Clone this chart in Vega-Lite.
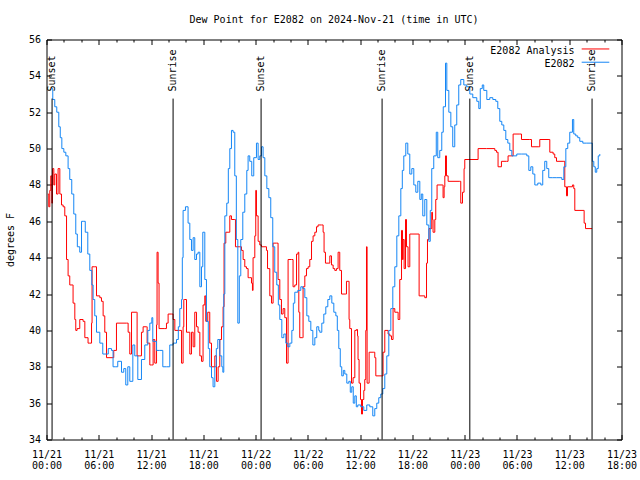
{
  "$schema": "https://vega.github.io/schema/vega-lite/v6.json",
  "width": 575,
  "height": 400,
  "autosize": "none",
  "padding": {"left": 46.5, "top": 39.5, "right": 18.5, "bottom": 40.5},
  "background": "white",
  "title": {"text": "Dew Point for E2082 on 2024-Nov-21 (time in UTC)", "font": "DejaVu Sans Mono", "fontSize": 10, "fontWeight": "normal", "color": "black", "anchor": "middle", "baseline": "alphabetic", "offset": 2},
  "datasets": {
    "legend": [
      {"series": "E2082 Analysis"},
      {"series": "E2082"}
    ],
    "sun": [
      {"event": "Sunset", "hours": 0.64},
      {"event": "Sunrise", "hours": 14.53},
      {"event": "Sunset", "hours": 24.63},
      {"event": "Sunrise", "hours": 38.52},
      {"event": "Sunset", "hours": 48.59},
      {"event": "Sunrise", "hours": 62.62}
    ],
    "dew": [
{"series":"E2082 Analysis","hours":0.15,"dewF":47.5},{"series":"E2082 Analysis","hours":0.26,"dewF":46.8},{"series":"E2082 Analysis","hours":0.38,"dewF":47.7},{"series":"E2082 Analysis","hours":0.49,"dewF":48.5},{"series":"E2082 Analysis","hours":0.61,"dewF":47.0},{"series":"E2082 Analysis","hours":0.69,"dewF":48.9},{"series":"E2082 Analysis","hours":0.84,"dewF":48.0},{"series":"E2082 Analysis","hours":0.95,"dewF":48.6},{"series":"E2082 Analysis","hours":1.15,"dewF":47.5},{"series":"E2082 Analysis","hours":1.33,"dewF":48.9},{"series":"E2082 Analysis","hours":1.53,"dewF":47.5},{"series":"E2082 Analysis","hours":1.72,"dewF":46.9},{"series":"E2082 Analysis","hours":1.91,"dewF":46.8},{"series":"E2082 Analysis","hours":2.10,"dewF":46.3},{"series":"E2082 Analysis","hours":2.30,"dewF":43.9},{"series":"E2082 Analysis","hours":2.48,"dewF":43.0},{"series":"E2082 Analysis","hours":2.67,"dewF":42.5},{"series":"E2082 Analysis","hours":2.94,"dewF":42.5},{"series":"E2082 Analysis","hours":3.05,"dewF":41.5},{"series":"E2082 Analysis","hours":3.25,"dewF":40.6},{"series":"E2082 Analysis","hours":3.36,"dewF":40.0},{"series":"E2082 Analysis","hours":3.51,"dewF":40.1},{"series":"E2082 Analysis","hours":3.82,"dewF":40.6},{"series":"E2082 Analysis","hours":4.20,"dewF":40.5},{"series":"E2082 Analysis","hours":4.40,"dewF":39.6},{"series":"E2082 Analysis","hours":4.77,"dewF":39.3},{"series":"E2082 Analysis","hours":4.97,"dewF":39.3},{"series":"E2082 Analysis","hours":5.17,"dewF":40.4},{"series":"E2082 Analysis","hours":5.23,"dewF":43.5},{"series":"E2082 Analysis","hours":5.54,"dewF":43.5},{"series":"E2082 Analysis","hours":5.74,"dewF":41.9},{"series":"E2082 Analysis","hours":6.12,"dewF":41.8},{"series":"E2082 Analysis","hours":6.31,"dewF":41.6},{"series":"E2082 Analysis","hours":6.50,"dewF":40.8},{"series":"E2082 Analysis","hours":6.69,"dewF":39.9},{"series":"E2082 Analysis","hours":6.89,"dewF":38.5},{"series":"E2082 Analysis","hours":7.64,"dewF":38.5},{"series":"E2082 Analysis","hours":7.72,"dewF":38.9},{"series":"E2082 Analysis","hours":8.03,"dewF":40.4},{"series":"E2082 Analysis","hours":9.18,"dewF":40.4},{"series":"E2082 Analysis","hours":9.37,"dewF":39.9},{"series":"E2082 Analysis","hours":9.56,"dewF":38.7},{"series":"E2082 Analysis","hours":9.76,"dewF":41.0},{"series":"E2082 Analysis","hours":10.33,"dewF":41.0},{"series":"E2082 Analysis","hours":10.40,"dewF":38.6},{"series":"E2082 Analysis","hours":10.71,"dewF":38.6},{"series":"E2082 Analysis","hours":10.90,"dewF":39.9},{"series":"E2082 Analysis","hours":11.09,"dewF":40.2},{"series":"E2082 Analysis","hours":11.48,"dewF":40.2},{"series":"E2082 Analysis","hours":11.55,"dewF":39.3},{"series":"E2082 Analysis","hours":11.86,"dewF":38.1},{"series":"E2082 Analysis","hours":12.05,"dewF":38.1},{"series":"E2082 Analysis","hours":12.24,"dewF":39.5},{"series":"E2082 Analysis","hours":12.43,"dewF":38.2},{"series":"E2082 Analysis","hours":12.63,"dewF":40.3},{"series":"E2082 Analysis","hours":12.69,"dewF":44.3},{"series":"E2082 Analysis","hours":12.81,"dewF":42.6},{"series":"E2082 Analysis","hours":12.92,"dewF":40.1},{"series":"E2082 Analysis","hours":13.58,"dewF":40.1},{"series":"E2082 Analysis","hours":13.77,"dewF":40.4},{"series":"E2082 Analysis","hours":13.96,"dewF":40.9},{"series":"E2082 Analysis","hours":14.35,"dewF":40.9},{"series":"E2082 Analysis","hours":14.53,"dewF":40.6},{"series":"E2082 Analysis","hours":14.73,"dewF":40.0},{"series":"E2082 Analysis","hours":15.30,"dewF":40.0},{"series":"E2082 Analysis","hours":15.50,"dewF":38.2},{"series":"E2082 Analysis","hours":15.68,"dewF":40.2},{"series":"E2082 Analysis","hours":15.76,"dewF":41.7},{"series":"E2082 Analysis","hours":15.87,"dewF":41.7},{"series":"E2082 Analysis","hours":16.07,"dewF":39.9},{"series":"E2082 Analysis","hours":16.45,"dewF":38.7},{"series":"E2082 Analysis","hours":16.64,"dewF":39.9},{"series":"E2082 Analysis","hours":16.83,"dewF":39.1},{"series":"E2082 Analysis","hours":17.02,"dewF":41.0},{"series":"E2082 Analysis","hours":17.22,"dewF":40.2},{"series":"E2082 Analysis","hours":17.40,"dewF":39.9},{"series":"E2082 Analysis","hours":17.60,"dewF":38.6},{"series":"E2082 Analysis","hours":17.79,"dewF":38.3},{"series":"E2082 Analysis","hours":17.97,"dewF":41.4},{"series":"E2082 Analysis","hours":18.17,"dewF":41.9},{"series":"E2082 Analysis","hours":18.28,"dewF":40.5},{"series":"E2082 Analysis","hours":18.51,"dewF":41.0},{"series":"E2082 Analysis","hours":18.74,"dewF":39.3},{"series":"E2082 Analysis","hours":18.94,"dewF":38.0},{"series":"E2082 Analysis","hours":19.32,"dewF":38.6},{"series":"E2082 Analysis","hours":19.51,"dewF":37.2},{"series":"E2082 Analysis","hours":19.70,"dewF":38.0},{"series":"E2082 Analysis","hours":19.89,"dewF":39.5},{"series":"E2082 Analysis","hours":20.09,"dewF":40.2},{"series":"E2082 Analysis","hours":20.27,"dewF":41.3},{"series":"E2082 Analysis","hours":20.38,"dewF":44.8},{"series":"E2082 Analysis","hours":20.58,"dewF":45.4},{"series":"E2082 Analysis","hours":20.84,"dewF":45.4},{"series":"E2082 Analysis","hours":21.04,"dewF":46.3},{"series":"E2082 Analysis","hours":21.23,"dewF":46.1},{"series":"E2082 Analysis","hours":21.61,"dewF":46.1},{"series":"E2082 Analysis","hours":21.69,"dewF":44.6},{"series":"E2082 Analysis","hours":22.19,"dewF":44.6},{"series":"E2082 Analysis","hours":22.38,"dewF":44.4},{"series":"E2082 Analysis","hours":22.57,"dewF":43.9},{"series":"E2082 Analysis","hours":22.76,"dewF":43.5},{"series":"E2082 Analysis","hours":22.96,"dewF":43.4},{"series":"E2082 Analysis","hours":23.14,"dewF":42.9},{"series":"E2082 Analysis","hours":23.33,"dewF":42.9},{"series":"E2082 Analysis","hours":23.53,"dewF":42.6},{"series":"E2082 Analysis","hours":23.64,"dewF":42.2},{"series":"E2082 Analysis","hours":23.71,"dewF":44.0},{"series":"E2082 Analysis","hours":23.91,"dewF":45.2},{"series":"E2082 Analysis","hours":24.02,"dewF":47.7},{"series":"E2082 Analysis","hours":24.10,"dewF":46.3},{"series":"E2082 Analysis","hours":24.29,"dewF":44.9},{"series":"E2082 Analysis","hours":24.48,"dewF":44.7},{"series":"E2082 Analysis","hours":24.68,"dewF":44.6},{"series":"E2082 Analysis","hours":25.25,"dewF":44.4},{"series":"E2082 Analysis","hours":25.37,"dewF":43.4},{"series":"E2082 Analysis","hours":25.63,"dewF":41.9},{"series":"E2082 Analysis","hours":25.83,"dewF":41.5},{"series":"E2082 Analysis","hours":26.01,"dewF":44.8},{"series":"E2082 Analysis","hours":26.40,"dewF":44.8},{"series":"E2082 Analysis","hours":26.58,"dewF":42.8},{"series":"E2082 Analysis","hours":26.78,"dewF":41.7},{"series":"E2082 Analysis","hours":26.97,"dewF":40.9},{"series":"E2082 Analysis","hours":27.16,"dewF":41.2},{"series":"E2082 Analysis","hours":27.35,"dewF":40.7},{"series":"E2082 Analysis","hours":27.55,"dewF":38.2},{"series":"E2082 Analysis","hours":27.73,"dewF":43.9},{"series":"E2082 Analysis","hours":28.12,"dewF":43.9},{"series":"E2082 Analysis","hours":28.30,"dewF":42.4},{"series":"E2082 Analysis","hours":28.50,"dewF":42.5},{"series":"E2082 Analysis","hours":28.70,"dewF":44.2},{"series":"E2082 Analysis","hours":28.88,"dewF":44.3},{"series":"E2082 Analysis","hours":28.96,"dewF":41.0},{"series":"E2082 Analysis","hours":29.07,"dewF":39.6},{"series":"E2082 Analysis","hours":29.38,"dewF":39.6},{"series":"E2082 Analysis","hours":29.45,"dewF":42.4},{"series":"E2082 Analysis","hours":29.65,"dewF":43.0},{"series":"E2082 Analysis","hours":29.84,"dewF":43.4},{"series":"E2082 Analysis","hours":30.03,"dewF":43.5},{"series":"E2082 Analysis","hours":30.22,"dewF":43.9},{"series":"E2082 Analysis","hours":30.42,"dewF":44.9},{"series":"E2082 Analysis","hours":30.60,"dewF":45.2},{"series":"E2082 Analysis","hours":30.80,"dewF":45.4},{"series":"E2082 Analysis","hours":30.99,"dewF":45.7},{"series":"E2082 Analysis","hours":31.17,"dewF":45.8},{"series":"E2082 Analysis","hours":31.56,"dewF":45.8},{"series":"E2082 Analysis","hours":31.75,"dewF":45.4},{"series":"E2082 Analysis","hours":31.86,"dewF":44.3},{"series":"E2082 Analysis","hours":32.02,"dewF":43.7},{"series":"E2082 Analysis","hours":32.32,"dewF":43.7},{"series":"E2082 Analysis","hours":32.52,"dewF":44.1},{"series":"E2082 Analysis","hours":32.71,"dewF":43.6},{"series":"E2082 Analysis","hours":32.90,"dewF":43.4},{"series":"E2082 Analysis","hours":33.09,"dewF":43.3},{"series":"E2082 Analysis","hours":33.29,"dewF":43.4},{"series":"E2082 Analysis","hours":33.47,"dewF":44.3},{"series":"E2082 Analysis","hours":33.66,"dewF":43.3},{"series":"E2082 Analysis","hours":33.86,"dewF":42.0},{"series":"E2082 Analysis","hours":34.35,"dewF":42.0},{"series":"E2082 Analysis","hours":34.43,"dewF":42.7},{"series":"E2082 Analysis","hours":34.62,"dewF":42.7},{"series":"E2082 Analysis","hours":34.73,"dewF":40.6},{"series":"E2082 Analysis","hours":34.81,"dewF":40.1},{"series":"E2082 Analysis","hours":35.01,"dewF":37.1},{"series":"E2082 Analysis","hours":35.19,"dewF":37.4},{"series":"E2082 Analysis","hours":35.39,"dewF":40.0},{"series":"E2082 Analysis","hours":35.58,"dewF":40.05},{"series":"E2082 Analysis","hours":35.70,"dewF":39.7},{"series":"E2082 Analysis","hours":35.76,"dewF":38.4},{"series":"E2082 Analysis","hours":35.88,"dewF":37.1},{"series":"E2082 Analysis","hours":36.04,"dewF":36.2},{"series":"E2082 Analysis","hours":36.16,"dewF":35.4},{"series":"E2082 Analysis","hours":36.27,"dewF":36.2},{"series":"E2082 Analysis","hours":36.42,"dewF":36.7},{"series":"E2082 Analysis","hours":36.53,"dewF":37.3},{"series":"E2082 Analysis","hours":36.65,"dewF":40.0},{"series":"E2082 Analysis","hours":36.73,"dewF":44.6},{"series":"E2082 Analysis","hours":36.80,"dewF":37.1},{"series":"E2082 Analysis","hours":37.03,"dewF":38.8},{"series":"E2082 Analysis","hours":37.57,"dewF":38.8},{"series":"E2082 Analysis","hours":37.68,"dewF":38.5},{"series":"E2082 Analysis","hours":37.80,"dewF":37.5},{"series":"E2082 Analysis","hours":38.45,"dewF":37.5},{"series":"E2082 Analysis","hours":38.63,"dewF":38.8},{"series":"E2082 Analysis","hours":38.83,"dewF":40.0},{"series":"E2082 Analysis","hours":39.21,"dewF":39.8},{"series":"E2082 Analysis","hours":39.40,"dewF":39.7},{"series":"E2082 Analysis","hours":39.60,"dewF":39.5},{"series":"E2082 Analysis","hours":39.78,"dewF":41.2},{"series":"E2082 Analysis","hours":39.98,"dewF":41.0},{"series":"E2082 Analysis","hours":40.36,"dewF":40.6},{"series":"E2082 Analysis","hours":40.55,"dewF":42.8},{"series":"E2082 Analysis","hours":40.75,"dewF":45.5},{"series":"E2082 Analysis","hours":40.86,"dewF":43.9},{"series":"E2082 Analysis","hours":40.93,"dewF":45.0},{"series":"E2082 Analysis","hours":41.05,"dewF":43.4},{"series":"E2082 Analysis","hours":41.21,"dewF":46.1},{"series":"E2082 Analysis","hours":41.32,"dewF":44.6},{"series":"E2082 Analysis","hours":41.50,"dewF":43.5},{"series":"E2082 Analysis","hours":41.70,"dewF":45.3},{"series":"E2082 Analysis","hours":42.65,"dewF":45.3},{"series":"E2082 Analysis","hours":42.77,"dewF":41.9},{"series":"E2082 Analysis","hours":43.42,"dewF":41.8},{"series":"E2082 Analysis","hours":43.62,"dewF":43.7},{"series":"E2082 Analysis","hours":43.73,"dewF":45.0},{"series":"E2082 Analysis","hours":43.91,"dewF":45.6},{"series":"E2082 Analysis","hours":44.11,"dewF":45.6},{"series":"E2082 Analysis","hours":44.22,"dewF":46.5},{"series":"E2082 Analysis","hours":44.30,"dewF":46.1},{"series":"E2082 Analysis","hours":44.37,"dewF":45.4},{"series":"E2082 Analysis","hours":44.57,"dewF":46.1},{"series":"E2082 Analysis","hours":44.68,"dewF":47.2},{"series":"E2082 Analysis","hours":44.83,"dewF":48.0},{"series":"E2082 Analysis","hours":45.45,"dewF":48.0},{"series":"E2082 Analysis","hours":45.52,"dewF":47.3},{"series":"E2082 Analysis","hours":45.64,"dewF":47.9},{"series":"E2082 Analysis","hours":45.72,"dewF":48.5},{"series":"E2082 Analysis","hours":45.80,"dewF":49.6},{"series":"E2082 Analysis","hours":45.91,"dewF":48.5},{"series":"E2082 Analysis","hours":46.10,"dewF":48.2},{"series":"E2082 Analysis","hours":47.44,"dewF":48.2},{"series":"E2082 Analysis","hours":47.55,"dewF":47.0},{"series":"E2082 Analysis","hours":47.75,"dewF":47.6},{"series":"E2082 Analysis","hours":47.93,"dewF":48.9},{"series":"E2082 Analysis","hours":48.01,"dewF":49.4},{"series":"E2082 Analysis","hours":49.54,"dewF":50.0},{"series":"E2082 Analysis","hours":50.50,"dewF":50.0},{"series":"E2082 Analysis","hours":51.46,"dewF":49.9},{"series":"E2082 Analysis","hours":51.65,"dewF":49.8},{"series":"E2082 Analysis","hours":51.83,"dewF":49.0},{"series":"E2082 Analysis","hours":52.22,"dewF":49.3},{"series":"E2082 Analysis","hours":52.80,"dewF":49.3},{"series":"E2082 Analysis","hours":52.98,"dewF":49.6},{"series":"E2082 Analysis","hours":53.56,"dewF":50.8},{"series":"E2082 Analysis","hours":54.33,"dewF":50.8},{"series":"E2082 Analysis","hours":54.52,"dewF":50.5},{"series":"E2082 Analysis","hours":55.47,"dewF":50.5},{"series":"E2082 Analysis","hours":55.67,"dewF":50.1},{"series":"E2082 Analysis","hours":56.43,"dewF":50.1},{"series":"E2082 Analysis","hours":56.62,"dewF":50.5},{"series":"E2082 Analysis","hours":57.57,"dewF":50.5},{"series":"E2082 Analysis","hours":57.77,"dewF":49.8},{"series":"E2082 Analysis","hours":58.15,"dewF":49.7},{"series":"E2082 Analysis","hours":58.34,"dewF":49.5},{"series":"E2082 Analysis","hours":58.54,"dewF":49.3},{"series":"E2082 Analysis","hours":59.30,"dewF":49.3},{"series":"E2082 Analysis","hours":59.49,"dewF":47.9},{"series":"E2082 Analysis","hours":59.69,"dewF":47.4},{"series":"E2082 Analysis","hours":59.80,"dewF":47.9},{"series":"E2082 Analysis","hours":60.37,"dewF":48.0},{"series":"E2082 Analysis","hours":60.52,"dewF":47.8},{"series":"E2082 Analysis","hours":60.64,"dewF":46.6},{"series":"E2082 Analysis","hours":61.59,"dewF":46.6},{"series":"E2082 Analysis","hours":61.71,"dewF":45.9},{"series":"E2082 Analysis","hours":61.87,"dewF":45.6},{"series":"E2082 Analysis","hours":62.62,"dewF":45.6},
{"series":"E2082","hours":0.57,"dewF":53.3},{"series":"E2082","hours":0.72,"dewF":52.7},{"series":"E2082","hours":0.95,"dewF":52.3},{"series":"E2082","hours":1.18,"dewF":52.0},{"series":"E2082","hours":1.41,"dewF":51.2},{"series":"E2082","hours":1.58,"dewF":50.6},{"series":"E2082","hours":1.76,"dewF":50.0},{"series":"E2082","hours":1.99,"dewF":49.8},{"series":"E2082","hours":2.22,"dewF":49.6},{"series":"E2082","hours":2.48,"dewF":48.9},{"series":"E2082","hours":2.67,"dewF":48.3},{"series":"E2082","hours":2.90,"dewF":47.5},{"series":"E2082","hours":3.13,"dewF":46.4},{"series":"E2082","hours":3.36,"dewF":45.3},{"series":"E2082","hours":3.54,"dewF":44.6},{"series":"E2082","hours":3.82,"dewF":44.3},{"series":"E2082","hours":4.02,"dewF":46.0},{"series":"E2082","hours":4.28,"dewF":46.0},{"series":"E2082","hours":4.45,"dewF":45.4},{"series":"E2082","hours":4.74,"dewF":44.2},{"series":"E2082","hours":4.97,"dewF":43.3},{"series":"E2082","hours":5.20,"dewF":42.5},{"series":"E2082","hours":5.35,"dewF":41.7},{"series":"E2082","hours":5.54,"dewF":40.8},{"series":"E2082","hours":5.74,"dewF":39.9},{"series":"E2082","hours":6.12,"dewF":39.3},{"series":"E2082","hours":6.46,"dewF":38.7},{"series":"E2082","hours":6.89,"dewF":38.7},{"series":"E2082","hours":7.09,"dewF":39.0},{"series":"E2082","hours":7.46,"dewF":38.9},{"series":"E2082","hours":7.64,"dewF":38.0},{"series":"E2082","hours":7.95,"dewF":38.0},{"series":"E2082","hours":8.18,"dewF":38.3},{"series":"E2082","hours":8.61,"dewF":37.7},{"series":"E2082","hours":8.87,"dewF":37.9},{"series":"E2082","hours":9.10,"dewF":37.0},{"series":"E2082","hours":9.33,"dewF":38.0},{"series":"E2082","hours":9.56,"dewF":37.2},{"series":"E2082","hours":9.91,"dewF":39.2},{"series":"E2082","hours":10.13,"dewF":38.6},{"series":"E2082","hours":10.48,"dewF":37.3},{"series":"E2082","hours":10.90,"dewF":38.4},{"series":"E2082","hours":11.28,"dewF":39.2},{"series":"E2082","hours":11.63,"dewF":40.0},{"series":"E2082","hours":11.86,"dewF":40.4},{"series":"E2082","hours":12.09,"dewF":40.7},{"series":"E2082","hours":12.20,"dewF":39.4},{"series":"E2082","hours":12.63,"dewF":38.9},{"series":"E2082","hours":13.00,"dewF":38.9},{"series":"E2082","hours":13.35,"dewF":38.0},{"series":"E2082","hours":13.77,"dewF":38.0},{"series":"E2082","hours":14.15,"dewF":39.2},{"series":"E2082","hours":14.53,"dewF":39.3},{"series":"E2082","hours":14.92,"dewF":39.5},{"series":"E2082","hours":15.13,"dewF":40.2},{"series":"E2082","hours":15.30,"dewF":41.2},{"series":"E2082","hours":15.50,"dewF":41.7},{"series":"E2082","hours":15.59,"dewF":44.0},{"series":"E2082","hours":15.68,"dewF":46.6},{"series":"E2082","hours":15.95,"dewF":46.8},{"series":"E2082","hours":16.25,"dewF":45.9},{"series":"E2082","hours":16.45,"dewF":45.0},{"series":"E2082","hours":16.64,"dewF":44.4},{"series":"E2082","hours":16.83,"dewF":45.1},{"series":"E2082","hours":17.02,"dewF":43.9},{"series":"E2082","hours":17.22,"dewF":44.2},{"series":"E2082","hours":17.40,"dewF":44.3},{"series":"E2082","hours":17.60,"dewF":42.4},{"series":"E2082","hours":17.79,"dewF":43.5},{"series":"E2082","hours":17.94,"dewF":45.4},{"series":"E2082","hours":18.17,"dewF":42.8},{"series":"E2082","hours":18.36,"dewF":40.5},{"series":"E2082","hours":18.57,"dewF":39.0},{"series":"E2082","hours":18.74,"dewF":38.0},{"series":"E2082","hours":18.94,"dewF":37.4},{"series":"E2082","hours":19.12,"dewF":36.9},{"series":"E2082","hours":19.32,"dewF":38.0},{"series":"E2082","hours":19.49,"dewF":39.0},{"series":"E2082","hours":19.66,"dewF":39.5},{"series":"E2082","hours":19.89,"dewF":38.6},{"series":"E2082","hours":20.12,"dewF":38.0},{"series":"E2082","hours":20.24,"dewF":37.7},{"series":"E2082","hours":20.35,"dewF":42.0},{"series":"E2082","hours":20.47,"dewF":46.3},{"series":"E2082","hours":20.69,"dewF":47.0},{"series":"E2082","hours":20.87,"dewF":48.9},{"series":"E2082","hours":21.04,"dewF":50.0},{"series":"E2082","hours":21.23,"dewF":51.0},{"series":"E2082","hours":21.42,"dewF":50.9},{"series":"E2082","hours":21.61,"dewF":48.5},{"series":"E2082","hours":21.79,"dewF":45.0},{"series":"E2082","hours":21.96,"dewF":40.4},{"series":"E2082","hours":22.13,"dewF":43.0},{"series":"E2082","hours":22.30,"dewF":45.0},{"series":"E2082","hours":22.53,"dewF":46.5},{"series":"E2082","hours":22.76,"dewF":47.5},{"series":"E2082","hours":22.99,"dewF":48.8},{"series":"E2082","hours":23.14,"dewF":49.6},{"series":"E2082","hours":23.33,"dewF":49.3},{"series":"E2082","hours":23.56,"dewF":48.5},{"series":"E2082","hours":23.79,"dewF":49.5},{"series":"E2082","hours":24.10,"dewF":50.3},{"series":"E2082","hours":24.29,"dewF":49.4},{"series":"E2082","hours":24.48,"dewF":49.6},{"series":"E2082","hours":24.68,"dewF":50.1},{"series":"E2082","hours":24.86,"dewF":49.5},{"series":"E2082","hours":25.06,"dewF":48.5},{"series":"E2082","hours":25.29,"dewF":47.8},{"series":"E2082","hours":25.52,"dewF":47.3},{"series":"E2082","hours":25.74,"dewF":46.2},{"series":"E2082","hours":25.97,"dewF":44.6},{"series":"E2082","hours":26.20,"dewF":43.2},{"series":"E2082","hours":26.43,"dewF":42.5},{"series":"E2082","hours":26.61,"dewF":41.4},{"series":"E2082","hours":26.78,"dewF":40.6},{"series":"E2082","hours":27.01,"dewF":39.6},{"series":"E2082","hours":27.24,"dewF":39.8},{"series":"E2082","hours":27.47,"dewF":39.3},{"series":"E2082","hours":27.70,"dewF":39.1},{"series":"E2082","hours":27.93,"dewF":39.3},{"series":"E2082","hours":28.16,"dewF":40.0},{"series":"E2082","hours":28.33,"dewF":41.5},{"series":"E2082","hours":28.50,"dewF":42.1},{"series":"E2082","hours":28.84,"dewF":42.2},{"series":"E2082","hours":29.19,"dewF":42.4},{"series":"E2082","hours":29.42,"dewF":42.3},{"series":"E2082","hours":29.65,"dewF":41.8},{"series":"E2082","hours":29.88,"dewF":40.8},{"series":"E2082","hours":30.11,"dewF":40.5},{"series":"E2082","hours":30.34,"dewF":40.0},{"series":"E2082","hours":30.57,"dewF":39.2},{"series":"E2082","hours":30.80,"dewF":39.6},{"series":"E2082","hours":31.02,"dewF":40.2},{"series":"E2082","hours":31.25,"dewF":40.0},{"series":"E2082","hours":31.37,"dewF":39.9},{"series":"E2082","hours":31.60,"dewF":40.4},{"series":"E2082","hours":31.83,"dewF":40.9},{"series":"E2082","hours":32.06,"dewF":41.3},{"series":"E2082","hours":32.29,"dewF":41.7},{"series":"E2082","hours":32.52,"dewF":41.9},{"series":"E2082","hours":32.75,"dewF":41.5},{"series":"E2082","hours":32.98,"dewF":41.0},{"series":"E2082","hours":33.21,"dewF":40.8},{"series":"E2082","hours":33.38,"dewF":40.0},{"series":"E2082","hours":33.55,"dewF":39.0},{"series":"E2082","hours":33.72,"dewF":38.0},{"series":"E2082","hours":33.89,"dewF":37.5},{"series":"E2082","hours":34.07,"dewF":37.8},{"series":"E2082","hours":34.24,"dewF":37.6},{"series":"E2082","hours":34.47,"dewF":37.1},{"series":"E2082","hours":34.70,"dewF":37.2},{"series":"E2082","hours":34.87,"dewF":36.6},{"series":"E2082","hours":35.04,"dewF":36.9},{"series":"E2082","hours":35.21,"dewF":36.0},{"series":"E2082","hours":35.39,"dewF":36.4},{"series":"E2082","hours":35.56,"dewF":35.8},{"series":"E2082","hours":35.73,"dewF":35.9},{"series":"E2082","hours":36.07,"dewF":35.8},{"series":"E2082","hours":36.42,"dewF":35.6},{"series":"E2082","hours":36.76,"dewF":35.9},{"series":"E2082","hours":37.11,"dewF":35.8},{"series":"E2082","hours":37.45,"dewF":35.3},{"series":"E2082","hours":37.68,"dewF":35.7},{"series":"E2082","hours":37.91,"dewF":36.0},{"series":"E2082","hours":38.14,"dewF":36.3},{"series":"E2082","hours":38.37,"dewF":36.5},{"series":"E2082","hours":38.60,"dewF":36.8},{"series":"E2082","hours":38.83,"dewF":37.6},{"series":"E2082","hours":39.06,"dewF":38.6},{"series":"E2082","hours":39.29,"dewF":40.0},{"series":"E2082","hours":39.52,"dewF":41.2},{"series":"E2082","hours":39.75,"dewF":42.4},{"series":"E2082","hours":39.98,"dewF":43.5},{"series":"E2082","hours":40.21,"dewF":45.2},{"series":"E2082","hours":40.44,"dewF":46.3},{"series":"E2082","hours":40.67,"dewF":47.8},{"series":"E2082","hours":40.84,"dewF":48.8},{"series":"E2082","hours":41.01,"dewF":49.6},{"series":"E2082","hours":41.24,"dewF":50.3},{"series":"E2082","hours":41.47,"dewF":49.7},{"series":"E2082","hours":41.70,"dewF":48.6},{"series":"E2082","hours":41.93,"dewF":48.9},{"series":"E2082","hours":42.16,"dewF":48.0},{"series":"E2082","hours":42.39,"dewF":47.6},{"series":"E2082","hours":42.62,"dewF":48.2},{"series":"E2082","hours":42.85,"dewF":47.2},{"series":"E2082","hours":43.02,"dewF":47.5},{"series":"E2082","hours":43.19,"dewF":46.3},{"series":"E2082","hours":43.42,"dewF":47.2},{"series":"E2082","hours":43.65,"dewF":45.8},{"series":"E2082","hours":43.88,"dewF":44.9},{"series":"E2082","hours":44.05,"dewF":46.6},{"series":"E2082","hours":44.22,"dewF":48.9},{"series":"E2082","hours":44.45,"dewF":49.6},{"series":"E2082","hours":44.74,"dewF":50.9},{"series":"E2082","hours":44.91,"dewF":49.5},{"series":"E2082","hours":45.14,"dewF":49.9},{"series":"E2082","hours":45.37,"dewF":50.9},{"series":"E2082","hours":45.54,"dewF":52.3},{"series":"E2082","hours":45.80,"dewF":54.7},{"series":"E2082","hours":45.95,"dewF":53.2},{"series":"E2082","hours":46.18,"dewF":52.0},{"series":"E2082","hours":46.41,"dewF":51.2},{"series":"E2082","hours":46.63,"dewF":50.1},{"series":"E2082","hours":46.86,"dewF":51.3},{"series":"E2082","hours":47.09,"dewF":52.4},{"series":"E2082","hours":47.32,"dewF":53.5},{"series":"E2082","hours":47.55,"dewF":53.8},{"series":"E2082","hours":47.90,"dewF":53.5},{"series":"E2082","hours":48.24,"dewF":53.4},{"series":"E2082","hours":48.59,"dewF":53.0},{"series":"E2082","hours":48.93,"dewF":52.8},{"series":"E2082","hours":49.39,"dewF":52.6},{"series":"E2082","hours":49.62,"dewF":52.2},{"series":"E2082","hours":49.79,"dewF":53.3},{"series":"E2082","hours":50.02,"dewF":53.5},{"series":"E2082","hours":50.19,"dewF":53.2},{"series":"E2082","hours":50.54,"dewF":52.7},{"series":"E2082","hours":50.88,"dewF":52.8},{"series":"E2082","hours":51.23,"dewF":52.7},{"series":"E2082","hours":51.57,"dewF":52.6},{"series":"E2082","hours":51.80,"dewF":52.2},{"series":"E2082","hours":52.03,"dewF":51.5},{"series":"E2082","hours":52.26,"dewF":51.3},{"series":"E2082","hours":52.49,"dewF":51.0},{"series":"E2082","hours":52.72,"dewF":50.5},{"series":"E2082","hours":52.95,"dewF":50.3},{"series":"E2082","hours":53.18,"dewF":49.9},{"series":"E2082","hours":53.41,"dewF":49.6},{"series":"E2082","hours":53.98,"dewF":49.7},{"series":"E2082","hours":54.55,"dewF":49.7},{"series":"E2082","hours":55.13,"dewF":49.6},{"series":"E2082","hours":55.36,"dewF":48.8},{"series":"E2082","hours":55.59,"dewF":49.0},{"series":"E2082","hours":55.82,"dewF":48.6},{"series":"E2082","hours":56.05,"dewF":48.0},{"series":"E2082","hours":56.39,"dewF":48.1},{"series":"E2082","hours":56.74,"dewF":48.0},{"series":"E2082","hours":56.96,"dewF":48.8},{"series":"E2082","hours":57.19,"dewF":49.3},{"series":"E2082","hours":57.42,"dewF":48.9},{"series":"E2082","hours":57.65,"dewF":48.4},{"series":"E2082","hours":58.11,"dewF":48.4},{"series":"E2082","hours":58.57,"dewF":48.4},{"series":"E2082","hours":59.15,"dewF":48.3},{"series":"E2082","hours":59.38,"dewF":49.0},{"series":"E2082","hours":59.61,"dewF":50.0},{"series":"E2082","hours":59.83,"dewF":50.3},{"series":"E2082","hours":60.06,"dewF":50.9},{"series":"E2082","hours":60.37,"dewF":51.6},{"series":"E2082","hours":60.52,"dewF":50.8},{"series":"E2082","hours":60.75,"dewF":50.7},{"series":"E2082","hours":60.98,"dewF":50.6},{"series":"E2082","hours":61.21,"dewF":50.4},{"series":"E2082","hours":61.56,"dewF":50.3},{"series":"E2082","hours":62.01,"dewF":50.3},{"series":"E2082","hours":62.47,"dewF":50.3},{"series":"E2082","hours":62.65,"dewF":49.3},{"series":"E2082","hours":62.82,"dewF":49.0},{"series":"E2082","hours":62.99,"dewF":48.7},{"series":"E2082","hours":63.16,"dewF":48.9},{"series":"E2082","hours":63.33,"dewF":49.6},{"series":"E2082","hours":63.51,"dewF":49.7}
    ]
  },
  "layer": [
    {
      "data": {"name": "dew"},
      "mark": {"type": "line", "interpolate": "step-after", "strokeWidth": 1},
      "encoding": {
        "x": {"field": "hours", "type": "quantitative", "scale": {"domain": [0, 66], "nice": false, "zero": false},
          "axis": {"orient": "bottom", "values": [0, 6, 12, 18, 24, 30, 36, 42, 48, 54, 60, 66], "tickSize": -5, "labelPadding": 14.5, "labelBaseline": "top", "labelLineHeight": 11.5, "labelFlush": false, "labelOverlap": false, "title": null,
            "labelExpr": "['11/' + (21 + floor(datum.value / 24)), (datum.value % 24 < 10 ? '0' : '') + (datum.value % 24) + ':00']"}},
        "y": {"field": "dewF", "type": "quantitative", "scale": {"domain": [34, 56], "nice": false, "zero": false},
          "axis": {"orient": "left", "values": [34, 36, 38, 40, 42, 44, 46, 48, 50, 52, 54, 56], "tickSize": -5, "labelPadding": 11, "title": "degrees F", "titlePadding": 13}},
        "color": {"field": "series", "type": "nominal", "scale": {"domain": ["E2082 Analysis", "E2082"], "range": ["#ff0000", "#1586f5"]}, "legend": null}
      }
    },
    {
      "data": {"name": "sun"},
      "mark": {"type": "rule", "color": "black", "strokeWidth": 1},
      "encoding": {
        "x": {"field": "hours", "type": "quantitative", "axis": {"orient": "top", "values": [0, 6, 12, 18, 24, 30, 36, 42, 48, 54, 60, 66], "tickSize": -5, "labels": false, "title": null}},
        "y": {"datum": 52.75, "type": "quantitative", "axis": {"orient": "right", "values": [34, 36, 38, 40, 42, 44, 46, 48, 50, 52, 54, 56], "tickSize": -5, "labels": false, "title": null}},
        "y2": {"datum": 34}
      }
    },
    {
      "data": {"name": "sun"},
      "transform": [{"filter": "datum.event === 'Sunset'"}],
      "mark": {"type": "text", "angle": 270, "align": "left", "baseline": "middle", "font": "DejaVu Sans Mono", "fontSize": 10, "color": "black"},
      "encoding": {
        "x": {"field": "hours", "type": "quantitative", "axis": {"orient": "bottom", "values": [2, 4, 8, 10, 14, 16, 20, 22, 26, 28, 32, 34, 38, 40, 44, 46, 50, 52, 56, 58, 62, 64], "tickSize": -2.5, "labels": false, "title": null}},
        "y": {"datum": 53.14, "type": "quantitative", "axis": null},
        "text": {"field": "event"}
      }
    },
    {
      "data": {"name": "sun"},
      "transform": [{"filter": "datum.event === 'Sunrise'"}],
      "mark": {"type": "text", "angle": 270, "align": "left", "baseline": "middle", "font": "DejaVu Sans Mono", "fontSize": 10, "color": "black"},
      "encoding": {
        "x": {"field": "hours", "type": "quantitative", "axis": {"orient": "top", "values": [2, 4, 8, 10, 14, 16, 20, 22, 26, 28, 32, 34, 38, 40, 44, 46, 50, 52, 56, 58, 62, 64], "tickSize": -2.5, "labels": false, "title": null}},
        "y": {"datum": 53.14, "type": "quantitative", "axis": null},
        "text": {"field": "event"}
      }
    },
    {
      "data": {"name": "legend"},
      "transform": [{"filter": "datum.series === 'E2082 Analysis'"}],
      "layer": [
        {
          "mark": {"type": "text", "align": "right", "baseline": "alphabetic", "font": "DejaVu Sans Mono", "fontSize": 10, "color": "black"},
          "encoding": {
            "x": {"datum": 60.62, "type": "quantitative", "axis": null},
            "y": {"datum": 55.19, "type": "quantitative", "axis": null},
            "text": {"field": "series"}
          }
        },
        {
          "mark": {"type": "rule", "strokeWidth": 1},
          "encoding": {
            "x": {"datum": 61.43, "type": "quantitative", "axis": null},
            "x2": {"datum": 64.6},
            "y": {"datum": 55.48, "type": "quantitative", "axis": null},
            "color": {"field": "series", "type": "nominal", "legend": null}
          }
        }
      ]
    },
    {
      "data": {"name": "legend"},
      "transform": [{"filter": "datum.series === 'E2082'"}],
      "layer": [
        {
          "mark": {"type": "text", "align": "right", "baseline": "alphabetic", "font": "DejaVu Sans Mono", "fontSize": 10, "color": "black"},
          "encoding": {
            "x": {"datum": 60.62, "type": "quantitative", "axis": null},
            "y": {"datum": 54.5, "type": "quantitative", "axis": null},
            "text": {"field": "series"}
          }
        },
        {
          "mark": {"type": "rule", "strokeWidth": 1},
          "encoding": {
            "x": {"datum": 61.43, "type": "quantitative", "axis": null},
            "x2": {"datum": 64.6},
            "y": {"datum": 54.75, "type": "quantitative", "axis": null},
            "color": {"field": "series", "type": "nominal", "legend": null}
          }
        }
      ]
    }
  ],
  "resolve": {"axis": {"x": "independent", "y": "independent"}},
  "config": {
    "font": "DejaVu Sans Mono",
    "view": {"stroke": "black", "strokeWidth": 1},
    "axis": {"domain": false, "grid": false, "labelFont": "DejaVu Sans Mono", "labelFontSize": 10, "labelColor": "black", "tickColor": "black", "tickWidth": 1, "titleFont": "DejaVu Sans Mono", "titleFontSize": 10, "titleFontWeight": "normal", "titleColor": "black"}
  }
}
